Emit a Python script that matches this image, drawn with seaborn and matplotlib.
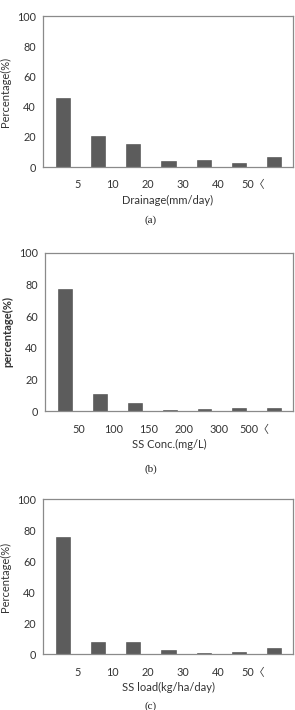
import matplotlib
matplotlib.use("Agg")
import matplotlib.pyplot as plt
import matplotlib.transforms as mtransforms
import seaborn as sns
import pandas as pd

sns.set_style("white")
plt.rcParams['font.family'] = ['Lato', 'Noto Sans CJK JP', 'DejaVu Sans']

drain_labels = ["5", "10", "20", "30", "40", "50〈"]
drain_vals = [46.0, 20.4, 15.3, 3.8, 4.4, 2.9, 6.9]

ss_labels = ["50", "100", "150", "200", "300", "500〈"]
ss_vals = [77.1, 10.9, 5.0, 0.6, 1.5, 2.3, 2.3]

load_labels = ["5", "10", "20", "30", "40", "50〈"]
load_vals = [75.7, 7.7, 8.0, 3.0, 1.1, 1.5, 3.9]

panels = [
    (drain_vals, drain_labels, "Drainage(mm/day)", "Percentage(%)", "(a)",
     [43/295, 1-167/710, 250/295, (167-16.3)/710], 1-220/710),
    (ss_vals, ss_labels, "SS Conc.(mg/L)", "percentage(%)", "(b)",
     [45/295, 1-411.3/710, 248/295, (411.3-252.7)/710], 1-469/710),
    (load_vals, load_labels, "SS load(kg/ha/day)", "Percentage(%)", "(c)",
     [43/295, 1-654.3/710, 250/295, (654.3-499.3)/710], 1-706/710),
]

fig = plt.figure(figsize=(2.95, 7.1), dpi=100)
spine_col = "#8a8a8a"
txt_col = "#333333"
for vals, labels, xlab, ylab, cap, rect, capy in panels:
    ax = fig.add_axes(rect)
    df = pd.DataFrame({"cat": [str(i) for i in range(len(vals))], "val": vals})
    sns.barplot(data=df, x="cat", y="val", color="#5c5c5c", width=0.4,
                saturation=1, ax=ax, edgecolor="#4a4a4a", linewidth=0.4)
    n = len(vals)
    ax.set_xlim(-0.56, n - 0.47)
    ax.set_ylim(0, 100)
    ax.set_yticks([0, 20, 40, 60, 80, 100])
    ax.set_xticks([i - 0.5 for i in range(n + 1)])
    ax.set_xticklabels([""] + labels + [""])
    ax.tick_params(axis="both", direction="out", length=3, width=0.7,
                   color=spine_col, labelsize=7.8, labelcolor=txt_col, pad=2)
    ax.tick_params(axis="x", pad=6)
    offset = mtransforms.ScaledTranslation(-3/100, 0, fig.dpi_scale_trans)
    for lab in ax.get_xticklabels():
        lab.set_transform(lab.get_transform() + offset)
    ax.set_xlabel(xlab, fontsize=8, color=txt_col, labelpad=3)
    ax.set_ylabel(ylab, fontsize=8, color=txt_col, labelpad=4,
                  fontweight="bold" if ylab.startswith("p") else "normal")
    for s in ax.spines.values():
        s.set_visible(True)
        s.set_color(spine_col)
        s.set_linewidth(0.9)
    fig.text(0.51, capy, cap, ha="center", va="center", fontsize=8,
             family=["Liberation Serif"], color="#222222")

fig.savefig("out.png", dpi=100)
